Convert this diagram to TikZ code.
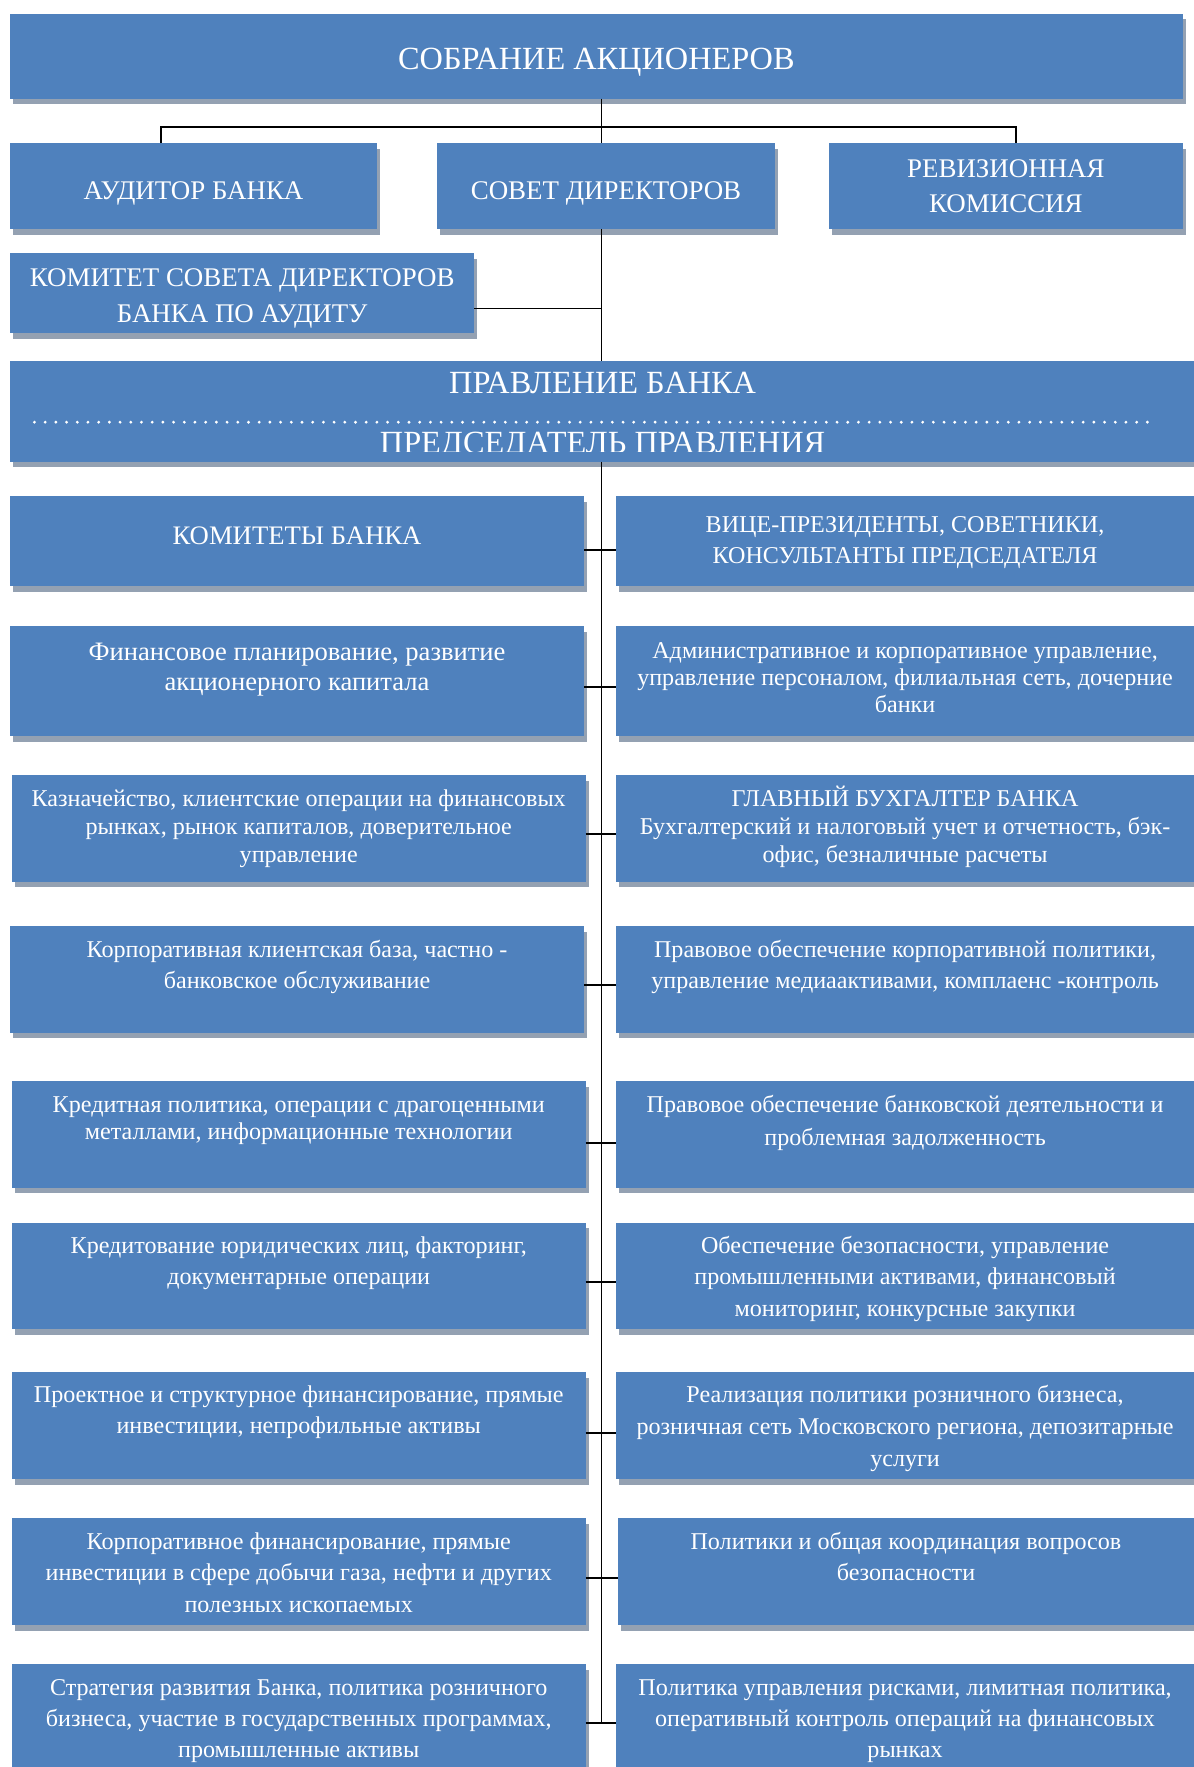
\documentclass[tikz,border=0pt]{standalone}
\usepackage{fontspec}
\setmainfont{Liberation Serif}
\usetikzlibrary{shadows,fit}
\definecolor{boxblue}{RGB}{79,129,189}
\definecolor{shadowgrey}{RGB}{148,161,178}
\newcommand\mlines[1]{\begin{tabular}[t]{@{}c@{}}#1\end{tabular}}
\begin{document}
\begin{tikzpicture}[x=1pt,y=-1pt,
  box/.style={fill=boxblue, inner sep=0pt, outer sep=0pt, draw=none,
     drop shadow={shadow xshift=2.7pt, shadow yshift=-5pt, fill=shadowgrey, opacity=1}},
  txt/.style={text=white, inner sep=0pt, anchor=base, font=\fontsize{21.4}{27}\selectfont},
  captxt/.style={txt, font=\fontsize{23.9}{27}\selectfont},
  bigtxt/.style={txt, font=\fontsize{28.7}{30}\selectfont},
  ln/.style={line width=1.6pt, draw=black}]
\clip (0,0) rectangle (1060,1568.7);
\fill[white] (0,0) rectangle (1060,1568.7);

% upper part
\node[box, fit={(9,12) (1050,87.6)}] (top) {};
\node[bigtxt] (topt) at (529.5,61.3) {СОБРАНИЕ АКЦИОНЕРОВ};
\node[box, fit={(9,127) (334.6,203.6)}] (audit) {};
\node[captxt] (auditt) at (171.8,177) {АУДИТОР БАНКА};
\node[box, fit={(388,127) (688,203.6)}] (sovet) {};
\node[captxt] (sovett) at (538,177) {СОВЕТ ДИРЕКТОРОВ};
\node[box, fit={(736,127) (1050,203.6)}] (rev) {};
\node[captxt, font=\fontsize{23.9}{31}\selectfont] (revt) at (893,157.4) {\mlines{РЕВИЗИОННАЯ\\КОМИССИЯ}};
\node[box, fit={(9,225) (421,296)}] (kom) {};
\node[captxt, font=\fontsize{23.9}{32}\selectfont] (komt) at (215,254.5) {\mlines{КОМИТЕТ СОВЕТА ДИРЕКТОРОВ\\БАНКА ПО АУДИТУ}};
\node[box, fit={(9,320.5) (1062,410)}] (pravl) {};
\node[bigtxt] (pravlt) at (535,349.6) {ПРАВЛЕНИЕ БАНКА};
\coordinate (dotL) at (30.6,374.8);
\coordinate (dotR) at (1025,374.8);
\draw[white, line width=2.8pt, line cap=round, dash pattern=on 0pt off 9.5pt] (dotL) -- (dotR);
\begin{scope}
\clip (9,320) rectangle (1062,401.2);
\node[bigtxt] (pred) at (535,402.4) {ПРЕДСЕДАТЕЛЬ ПРАВЛЕНИЯ};
\end{scope}

% rows
\node[box, fit={(9,440.3) (518.5,520.2)}] (L1) {};
\node[box, fit={(547,440.3) (1062,520.2)}] (R1) {};
\node[captxt, font=\fontsize{23.7}{27}\selectfont] (L1t) at (263.7,483.8) {КОМИТЕТЫ БАНКА};
\node[txt, font=\fontsize{21.4}{27.5}\selectfont] (R1t) at (803.5,472.6) {\mlines{ВИЦЕ-ПРЕЗИДЕНТЫ, СОВЕТНИКИ,\\КОНСУЛЬТАНТЫ ПРЕДСЕДАТЕЛЯ}};
\coordinate (c1) at (534,488.3);

\node[box, fit={(9,555.8) (518.5,653.4)}] (L2) {};
\node[box, fit={(547,555.8) (1062,653.4)}] (R2) {};
\node[txt, font=\fontsize{23.6}{27.2}\selectfont] (L2t) at (263.7,586) {\mlines{Финансовое планирование, развитие\\акционерного капитала}};
\node[txt, font=\fontsize{21.4}{24}\selectfont] (R2t) at (803.5,584.5) {\mlines{Административное и корпоративное управление,\\управление персоналом, филиальная сеть, дочерние\\банки}};
\coordinate (c2) at (534,610.2);

\node[box, fit={(10.5,688) (520,782.7)}] (L3) {};
\node[box, fit={(547,688) (1062,782.7)}] (R3) {};
\node[txt, font=\fontsize{21.4}{24.9}\selectfont] (L3t) at (265.2,716.2) {\mlines{Казначейство, клиентские операции на финансовых\\рынках, рынок капиталов, доверительное\\управление}};
\node[txt, font=\fontsize{21.4}{24.6}\selectfont] (R3t) at (803.5,716.2) {\mlines{ГЛАВНЫЙ БУХГАЛТЕР БАНКА\\Бухгалтерский и налоговый учет и отчетность, бэк-\\офис, безналичные расчеты}};
\coordinate (c3) at (534,740.4);

\node[box, fit={(9,822) (518.5,916.8)}] (L4) {};
\node[box, fit={(547,822) (1062,916.8)}] (R4) {};
\node[txt, font=\fontsize{21.4}{27.5}\selectfont] (L4t) at (263.7,849.9) {\mlines{Корпоративная клиентская база, частно -\\банковское обслуживание}};
\node[txt, font=\fontsize{21.4}{27.5}\selectfont] (R4t) at (803.5,849.9) {\mlines{Правовое обеспечение корпоративной политики,\\управление медиаактивами, комплаенс -контроль}};
\coordinate (c4) at (534,874.5);

\node[box, fit={(10.5,959.7) (520,1054.4)}] (L5) {};
\node[box, fit={(547,959.7) (1062,1054.4)}] (R5) {};
\node[txt, font=\fontsize{21.4}{24.5}\selectfont] (L5t) at (265.2,987.5) {\mlines{Кредитная политика, операции с драгоценными\\металлами, информационные технологии}};
\node[txt, font=\fontsize{21.4}{29}\selectfont] (R5t) at (803.5,987.5) {\mlines{Правовое обеспечение банковской деятельности и\\проблемная задолженность}};
\coordinate (c5) at (534,1014.4);

\node[box, fit={(10.5,1085.5) (520,1180.2)}] (L6) {};
\node[box, fit={(547,1085.5) (1062,1180.2)}] (R6) {};
\node[txt, font=\fontsize{21.4}{28}\selectfont] (L6t) at (265.2,1112.7) {\mlines{Кредитование юридических лиц, факторинг,\\документарные операции}};
\node[txt, font=\fontsize{21.4}{28}\selectfont] (R6t) at (803.5,1112.7) {\mlines{Обеспечение безопасности, управление\\промышленными активами, финансовый\\мониторинг, конкурсные закупки}};
\coordinate (c6) at (534,1138.4);

\node[box, fit={(10.5,1218.3) (520,1313)}] (L7) {};
\node[box, fit={(547,1218.3) (1062,1313)}] (R7) {};
\node[txt, font=\fontsize{21.4}{27.2}\selectfont] (L7t) at (265.2,1245.3) {\mlines{Проектное и структурное финансирование, прямые\\инвестиции, непрофильные активы}};
\node[txt, font=\fontsize{21.4}{28.3}\selectfont] (R7t) at (803.5,1245.3) {\mlines{Реализация политики розничного бизнеса,\\розничная сеть Московского региона, депозитарные\\услуги}};
\coordinate (c7) at (534,1272.5);

\node[box, fit={(10.5,1348) (520,1442.6)}] (L8) {};
\node[box, fit={(548.7,1348) (1062,1442.6)}] (R8) {};
\node[txt, font=\fontsize{21.4}{28}\selectfont] (L8t) at (265.2,1375.2) {\mlines{Корпоративное финансирование, прямые\\инвестиции в сфере добычи газа, нефти и других\\полезных ископаемых}};
\node[txt, font=\fontsize{21.4}{27.5}\selectfont] (R8t) at (804.3,1375.2) {\mlines{Политики и общая координация вопросов\\безопасности}};
\coordinate (c8) at (534,1400.6);

\node[box, fit={(10.5,1477.3) (520,1600)}] (L9) {};
\node[box, fit={(547,1477.3) (1062,1600)}] (R9) {};
\node[txt, font=\fontsize{21.4}{27.6}\selectfont] (L9t) at (265.2,1504.8) {\mlines{Стратегия развития Банка, политика розничного\\бизнеса, участие в государственных программах,\\промышленные активы}};
\node[txt, font=\fontsize{21.4}{27.6}\selectfont] (R9t) at (803.5,1504.8) {\mlines{Политика управления рисками, лимитная политика,\\оперативный контроль операций на финансовых\\рынках}};
\coordinate (c9) at (534,1529.3);

% connectors
\coordinate (bus) at (534,112.5);
\coordinate (busL) at (142.7,112.5);
\coordinate (busR) at (902,112.5);
\coordinate (kc) at (534,273.8);
\draw[ln] (top.south -| bus) -- (bus |- sovet.north);
\draw[ln] (busL |- audit.north) -- (busL) -- (busR) -- (busR |- rev.north);
\draw[ln] (sovet.south -| bus) -- (pravl.north -| bus);
\draw[ln] (kom.east |- kc) -- (kc);
\draw[ln] (pravl.south -| bus) -- (c9);
\foreach \i in {1,...,9}{
  \draw[ln] (L\i.east |- c\i) -- (R\i.west |- c\i);
}
\end{tikzpicture}
\end{document}
